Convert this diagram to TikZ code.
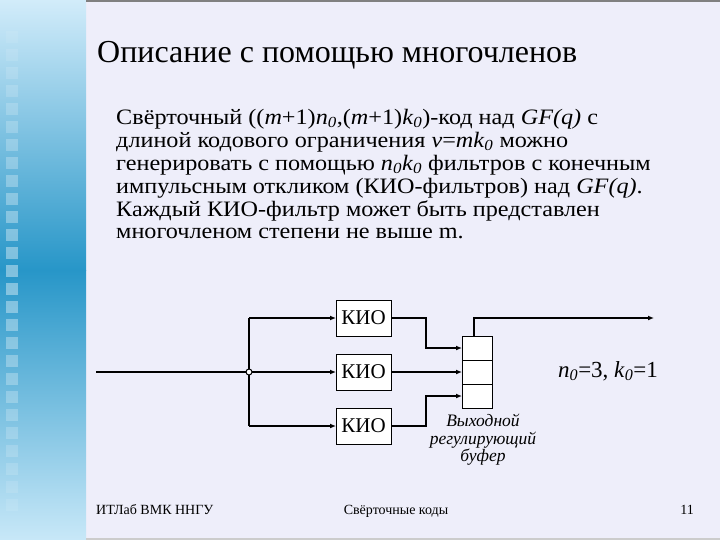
\documentclass[tikz,border=0pt]{standalone}
\usepackage{fontspec}
\newfontfamily\slidefont{Liberation Serif}
\newfontfamily\bodyfont{Liberation Serif}[FakeStretch=1.1]
\usepackage{xcolor}
\definecolor{slideBg}{HTML}{EEEEFA}
\definecolor{stripTop}{HTML}{D2ECFA}
\definecolor{stripMid}{HTML}{2796C8}
\definecolor{stripBot}{HTML}{C8E8F8}
\definecolor{frameGray}{HTML}{808080}
\usepackage{tikz}
\usetikzlibrary{
    arrows.meta,
    positioning
}
\newcommand{\sub}[1]{\textsubscript{\itshape #1}}
\newcommand{\fsz}[2]{\slidefont\fontsize{#1}{#2}\selectfont}
\tikzset{
    % Filter boxes (KIO)
    kio/.style={
        draw,
        line width=1pt,
        fill=white,
        minimum width=55pt,
        minimum height=36pt,
        inner sep=0pt,
        outer sep=0pt,
        font=\fsz{21}{22},
    },
    % One cell of the output buffer
    cell/.style={
        draw,
        line width=1pt,
        fill=white,
        minimum width=30pt,
        minimum height=24pt,
        inner sep=0pt,
        outer sep=0pt,
    },
    % Wire with a small filled tip
    wire/.style={
        line width=2pt,
        -{Latex[length=6pt, width=5pt]},
    },
    % Wire without tip
    plain wire/.style={
        line width=2pt,
    },
    % Footer texts
    footer/.style={
        font=\fsz{14}{15},
        inner sep=0pt,
    },
}

\begin{document}
\begin{tikzpicture}[x=1pt, y=-1pt]
    \useasboundingbox (0,0) rectangle (720,540);
    % slide background
    \fill[slideBg] (0,0) rectangle (720,540);
    \shade[top color=stripTop, bottom color=stripMid] (0,0) rectangle (86,270);
    \shade[top color=stripMid, bottom color=stripBot] (0,270) rectangle (86,540);
    \foreach \y in {31,49,...,499} {
        \pgfmathsetmacro{\op}{0.42-0.34*abs(\y-270)/240}
        \fill[white, opacity=\op] (6,\y) rectangle (18,\y+12);
    }
    \fill[frameGray] (86,0) rectangle (720,2.5);
    \fill[frameGray!40] (86,538) rectangle (720,540);

    % title and text
    \node (title) [anchor=base west, inner sep=0pt, font=\fsz{32}{36}]
        at (97,63) {Описание с помощью многочленов};
    \node (body) [anchor=base west, inner sep=0pt, align=left,
        font=\bodyfont\fontsize{22}{23}\selectfont] at (116,239) {%
        Свёрточный ((\textit{m}+1)\textit{n}\sub{0},(\textit{m}+1)\textit{k}\sub{0})-код над \textit{GF(q)} с\\
        длиной кодового ограничения \textit{v}=\textit{mk}\sub{0} можно\\
        генерировать с помощью \textit{n}\sub{0}\textit{k}\sub{0} фильтров с конечным\\
        импульсным откликом (КИО-фильтров) над \textit{GF(q)}.\\
        Каждый КИО-фильтр может быть представлен\\
        многочленом степени не выше m.};

    % filters
    \node (kio2) [kio] at (363.5,372) {КИО};
    \node (kio1) [kio, above=18pt of kio2] {КИО};
    \node (kio3) [kio, below=18pt of kio2] {КИО};

    % output buffer
    \node (buf2) [cell] at (477,372) {};
    \node (buf1) [cell, above=0pt of buf2] {};
    \node (buf3) [cell, below=0pt of buf2] {};

    \coordinate (in) at (96,372);
    \coordinate (split) at (249,372);
    \coordinate (out) at (654,318);

    % input and branching
    \draw[plain wire] (in) -- (split);
    \draw[wire] (split) -- (kio2);
    \draw[wire] (split |- kio1) -- (kio1);
    \draw[wire] (split |- kio3) -- (kio3);
    \draw[plain wire] (split |- kio1) -- (split |- kio3);
    \draw[line width=1pt, fill=white] (split) circle (3);

    % filters to buffer
    \draw[wire] (kio1.east) -| (426,348) -- (buf1.west);
    \draw[wire] (kio2.east) -- (buf2.west);
    \draw[wire] (kio3.east) -| (426,396) -- (buf3.west);
    \draw[wire] ([xshift=-3pt]buf1.north) |- (out);

    \node (params) [font=\fsz{23}{26}] at (608,371)
        {\textit{n}\sub{0}=3, \textit{k}\sub{0}=1};
    \node (caption) [below=3pt of buf3, xshift=6pt, align=center,
        font=\fsz{17.5}{17.5}\itshape]
        {Выходной\\регулирующий\\буфер};

    % footer
    \node (lab) [footer, anchor=base west] at (96,514) {ИТЛаб ВМК ННГУ};
    \node (topic) [footer, anchor=base] at (396,514) {Свёрточные коды};
    \node (page) [footer, anchor=base east] at (694,514) {11};
\end{tikzpicture}
\end{document}
